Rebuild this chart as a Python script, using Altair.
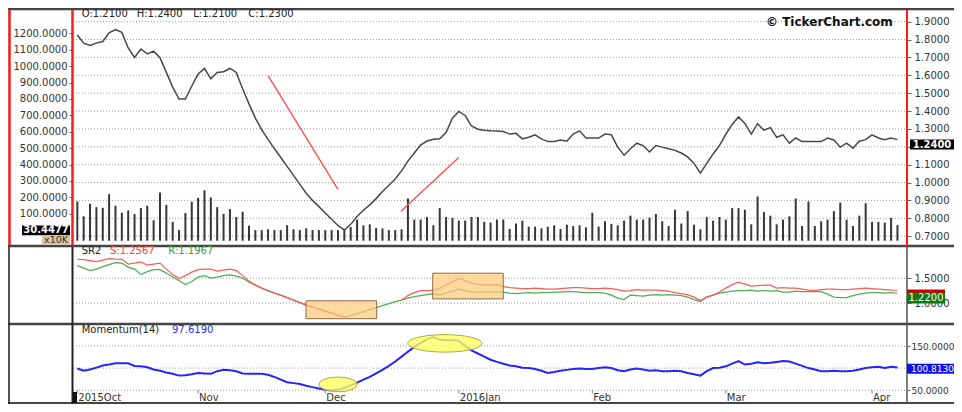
import altair as alt
import pandas as pd

# ---------------- data ----------------
N = 130
price = [1.825, 1.78, 1.767, 1.78, 1.789, 1.838, 1.856, 1.84, 1.753, 1.70,
         1.747, 1.72, 1.735, 1.698, 1.616, 1.534, 1.467, 1.467, 1.54, 1.607,
         1.638, 1.58, 1.616, 1.62, 1.638, 1.616, 1.525, 1.44, 1.36, 1.296,
         1.24, 1.19, 1.14, 1.09, 1.04, 0.99, 0.94, 0.90, 0.865, 0.83,
         0.795, 0.76, 0.734, 0.766, 0.81, 0.845, 0.875, 0.91, 0.95, 0.985,
         1.02, 1.065, 1.12, 1.165, 1.21, 1.232, 1.242, 1.245, 1.28, 1.36,
         1.398, 1.375, 1.316, 1.298, 1.292, 1.289, 1.288, 1.285, 1.271, 1.275,
         1.244, 1.253, 1.267, 1.244, 1.229, 1.229, 1.238, 1.231, 1.271, 1.289,
         1.249, 1.249, 1.249, 1.271, 1.267, 1.198, 1.153, 1.189, 1.22, 1.207,
         1.171, 1.207, 1.198, 1.189, 1.18, 1.165, 1.143, 1.107, 1.053, 1.107,
         1.16, 1.207, 1.27, 1.325, 1.367, 1.331, 1.271, 1.329, 1.293, 1.307,
         1.253, 1.267, 1.22, 1.249, 1.229, 1.229, 1.229, 1.229, 1.249, 1.238,
         1.198, 1.22, 1.192, 1.231, 1.24, 1.267, 1.249, 1.24, 1.249, 1.24]

volume = [175, 84, 160, 140, 136, 219, 149, 106, 120, 98,
          134, 149, 60, 229, 154, 50, 0, 104, 173, 197,
          243, 199, 140, 98, 128, 80, 112, 27, 0, 0,
          5, 0, 0, 30, 5, 0, 11, 0, 0, 0,
          0, 0, 5, 19, 64, 29, 35, 13, 10, 0,
          0, 5, 193, 64, 64, 80, 29, 134, 80, 74,
          58, 58, 80, 80, 50, 46, 64, 64, 7, 40,
          58, 21, 21, 11, 21, 29, 7, 33, 25, 29,
          17, 106, 21, 54, 38, 29, 58, 88, 64, 64,
          76, 98, 54, 25, 124, 40, 116, 33, 5, 80,
          58, 80, 64, 134, 134, 124, 35, 205, 110, 88,
          35, 64, 84, 193, 25, 175, 25, 54, 64, 116,
          168, 64, 25, 88, 164, 50, 50, 46, 74, 30.4477]

sr_s = [1.875, 1.87, 1.85, 1.83, 1.86, 1.89, 1.88, 1.875, 1.78, 1.80,
        1.825, 1.76, 1.78, 1.80, 1.68, 1.57, 1.49, 1.55, 1.62, 1.67,
        1.68, 1.68, 1.64, 1.66, 1.68, 1.65, 1.55, 1.44, 1.36, 1.30,
        1.25, 1.20, 1.16, 1.11, 1.06, 1.01, 0.96, 0.92, 0.88, 0.84,
        0.80, 0.76, 0.72, None, None, None, None, None, None, None,
        None, 1.06, 1.15, 1.21, 1.25, 1.25, 1.26, 1.30, 1.36, 1.43,
        1.49, 1.45, 1.40, 1.38, 1.37, 1.37, 1.37, 1.33, 1.31, 1.30,
        1.29, 1.29, 1.30, 1.29, 1.28, 1.28, 1.29, 1.30, 1.31, 1.31,
        1.30, 1.29, 1.29, 1.30, 1.29, 1.27, 1.24, 1.25, 1.27, 1.26,
        1.26, 1.26, 1.25, 1.24, 1.21, 1.19, 1.17, 1.12, 1.05, 1.12,
        1.16, 1.22, 1.30, 1.37, 1.42, 1.38, 1.34, 1.35, 1.36, 1.36,
        1.30, 1.31, 1.30, 1.30, 1.28, 1.26, 1.25, 1.27, 1.28, 1.28,
        1.27, 1.27, 1.28, 1.29, 1.30, 1.29, 1.28, 1.27, 1.26, 1.2567]

sr_r = [1.75, 1.70, 1.65, 1.68, 1.73, 1.77, 1.81, 1.80, 1.72, 1.68,
        1.57, 1.63, 1.67, 1.67, 1.60, 1.52, 1.45, 1.37, 1.43, 1.52,
        1.55, 1.50, 1.52, 1.55, 1.565, 1.54, 1.50, 1.42, 1.36, 1.30,
        1.25, 1.20, 1.16, 1.11, 1.06, 1.01, 0.96, 0.92, 0.88, 0.84,
        0.80, 0.76, 0.72, 0.75, 0.79, 0.83, 0.87, 0.91, 0.95, 0.99,
        1.03, 1.06, 1.10, 1.13, 1.15, 1.17, 1.19, 1.16, 1.20, 1.24,
        1.28, 1.25, 1.22, 1.22, 1.22, 1.22, 1.22, 1.22, 1.20, 1.19,
        1.20, 1.21, 1.20, 1.21, 1.21, 1.22, 1.22, 1.23, 1.23, 1.22,
        1.21, 1.21, 1.21, 1.20, 1.16, 1.10, 1.07, 1.16, 1.15, 1.14,
        1.16, 1.17, 1.16, 1.17, 1.16, 1.15, 1.12, 1.07, 1.03, 1.12,
        1.16, 1.20, 1.22, 1.24, 1.25, 1.25, 1.26, 1.24, 1.25, 1.24,
        1.25, 1.22, 1.22, 1.24, 1.23, 1.23, 1.23, 1.23, 1.18, 1.12,
        1.11, 1.11, 1.15, 1.18, 1.20, 1.21, 1.21, 1.20, 1.21, 1.1967]

momentum = [99, 94, 97, 101, 106, 108, 111, 111, 111, 105,
            104, 102, 97, 94, 90, 87, 83, 84, 86, 89,
            88, 87, 93, 96, 95, 93, 88, 87, 87, 87,
            85, 80, 74, 68, 66, 64, 60, 57, 54, 51,
            50, 51, 55, 61, 67, 74, 80, 88, 96, 105,
            115, 126, 137, 148, 157, 165, 170, 164, 163, 163,
            162, 150, 140, 133, 126, 119, 114, 110, 106, 104,
            101, 100, 98, 94, 89, 91, 94, 96, 98, 99,
            98, 98, 100, 102, 100, 95, 93, 97, 99, 97,
            94, 95, 93, 93, 94, 93, 89, 86, 83, 93,
            100, 101, 104, 110, 116, 108, 110, 113, 111, 112,
            114, 116, 115, 110, 105, 100, 97, 93, 93, 94,
            93, 93, 94, 97, 100, 102, 103, 100, 103, 101.5]

month_pos = [0, 19, 39, 60, 81, 102, 125]
month_lbl = ["2015Oct", "Nov", "Dec", "2016Jan", "Feb", "Mar", "Apr"]

trend_seg = ["down", "down", "up", "up"]
trend_i = [30.0, 41.0, 50.9, 60.0]
trend_p = [1.598, 0.962, 0.839, 1.14]

box_i = [35.97, 55.9]
box_i2 = [47.09, 67.0]
box_lo = [0.688, 1.084]
box_hi = [1.046, 1.598]

ell_i = [41.0, 57.8]
ell_mom = [63.1, 155.9]

vol_ticks = [100, 200, 300, 400, 500, 600, 700, 800, 900, 1000, 1100, 1200]
price_ticks = [0.7, 0.8, 0.9, 1.0, 1.1, 1.2, 1.3, 1.4, 1.5, 1.6, 1.7, 1.8, 1.9]
sr_ticks = [1.0, 1.5]
mom_ticks = [50, 100, 150]

# ---------------- geometry ----------------
W, H = 946, 396
FONT = "DejaVu Sans"
X_DOM = [-0.68, 130.5]
X_RNG = [65, 899]
VOL_BASE = -65
MOM_AXIS = 50          # momentum level on which the date axis sits
TICK_LEN = 7           # length of the date ticks, in momentum units


def lin_range(dom, v0, p0, v1, p1):
    k = (p1 - p0) / (v1 - v0)
    return [p0 + (dom[0] - v0) * k, p0 + (dom[1] - v0) * k]


PRICE_DOM = [0.65, 1.95]
VOL_DOM = [-70, 1350]
SR_DOM = [0.6, 2.1]
MOM_DOM = [20, 200]
xs = alt.Scale(domain=X_DOM, range=X_RNG, nice=False, zero=False)
ps = alt.Scale(domain=PRICE_DOM, range=lin_range(PRICE_DOM, 0.7, 228.15, 1.9, 13.65), nice=False, zero=False)
vs = alt.Scale(domain=VOL_DOM, range=lin_range(VOL_DOM, 100, 205.7, 1200, 25.35), nice=False, zero=False)
srs = alt.Scale(domain=SR_DOM, range=lin_range(SR_DOM, 1.0, 295.1, 1.5, 270.1), nice=False, zero=False)
ms = alt.Scale(domain=MOM_DOM, range=lin_range(MOM_DOM, 50, 382.2, 150, 338.0), nice=False, zero=False)

df = pd.DataFrame({"i": list(range(N)), "price": price, "vol": volume, "mom": momentum})
df["base"] = VOL_BASE


def segments(vals, name):
    rows, seg = [], 0
    for k, v in enumerate(vals):
        if v is None:
            seg += 1
            continue
        rows.append({"i": k, name: v, "seg": seg})
    return pd.DataFrame(rows)


df_s = segments(sr_s, "s")
df_r = segments(sr_r, "r")
df_tr = pd.DataFrame({"seg": trend_seg, "i": trend_i, "p": trend_p})
df_box = pd.DataFrame({"i": box_i, "i2": box_i2, "lo": box_lo, "hi": box_hi})
df_ell = pd.DataFrame({"i": ell_i, "mom": ell_mom})
df_mon = pd.DataFrame({"i": month_pos, "lbl": month_lbl})
df_mon["t0"] = MOM_AXIS
df_mon["t1"] = MOM_AXIS - TICK_LEN

common_axis = dict(labelFont=FONT, labelColor="#333333", tickColor="#666666",
                   grid=False, domain=False, title=None)
right_off = -(W - X_RNG[1])
Xn = alt.X("i:Q", scale=xs, axis=None)


def rule_grid(vals, scale):
    g = pd.DataFrame({"v": vals})
    g["i"] = X_DOM[0]
    g["i2"] = X_DOM[1]
    return alt.Chart(g).mark_rule(color="#9c9c9c", strokeDash=[1, 2], strokeWidth=1).encode(
        y=alt.Y("v:Q", scale=scale, axis=None), x=Xn, x2="i2:Q")


layers = [rule_grid(price_ticks, ps), rule_grid(sr_ticks, srs), rule_grid(mom_ticks, ms)]

# volume bars (left axis)
layers.append(alt.Chart(df).mark_rule(strokeWidth=2, color="#363636").encode(
    x=Xn,
    y=alt.Y("vol:Q", scale=vs, axis=alt.Axis(orient="left", offset=-X_RNG[0], values=vol_ticks,
                                            format=".4f", tickSize=4, labelPadding=2, labelFontSize=10,
                                            **common_axis)),
    y2="base:Q",
))

# price line (right axis); the 1.2000 label sits under the last-price box
layers.append(alt.Chart(df).mark_line(color="#474747", strokeWidth=1.5).encode(
    x=Xn,
    y=alt.Y("price:Q", scale=ps, axis=alt.Axis(
        orient="right", offset=right_off, values=price_ticks,
        labelExpr="datum.value == 1.2 ? '' : format(datum.value, '.4f')",
        tickSize=4, labelPadding=3, labelFontSize=10, **common_axis)),
))

# red trend lines
layers.append(alt.Chart(df_tr).mark_line(color="#ff4a4a", strokeWidth=1.3).encode(
    x=Xn, y=alt.Y("p:Q", scale=ps, axis=None), detail="seg:N"))

# SR2 lines
layers.append(alt.Chart(df_r).mark_line(color="#4caf50", strokeWidth=1.2).encode(
    x=Xn, y=alt.Y("r:Q", scale=srs, axis=alt.Axis(orient="right", offset=right_off, values=sr_ticks,
                                                format=".4f", tickSize=4, labelPadding=3, labelFontSize=10,
                                                **common_axis)),
    detail="seg:N"))
layers.append(alt.Chart(df_s).mark_line(color="#ff5a5a", strokeWidth=1.2).encode(
    x=Xn, y=alt.Y("s:Q", scale=srs, axis=None), detail="seg:N"))

# orange boxes
layers.append(alt.Chart(df_box).mark_rect(fill="#ffc978", fillOpacity=0.7, stroke="#8b6d45", strokeWidth=1).encode(
    x=Xn, x2="i2:Q", y=alt.Y("lo:Q", scale=srs, axis=None), y2="hi:Q"))

# momentum line
layers.append(alt.Chart(df).mark_line(color="#2424ff", strokeWidth=2).encode(
    x=Xn,
    y=alt.Y("mom:Q", scale=ms, axis=alt.Axis(orient="right", offset=right_off, values=mom_ticks,
                                            format=".4f", tickSize=3, labelPadding=1, labelFontSize=9,
                                            **common_axis)),
))

# date ticks and labels
layers.append(alt.Chart(df_mon).mark_rule(color="#777777", strokeWidth=1).encode(
    x=Xn, y=alt.Y("t0:Q", scale=ms, axis=None), y2="t1:Q"))
layers.append(alt.Chart(df_mon).mark_text(font=FONT, fontSize=10, color="#333333", align="left",
                                          baseline="middle", dx=1).encode(
    x=Xn, y=alt.value(390), text="lbl:N"))

# yellow ellipses
K = 0.5523


def ellipse_path(r):
    return (f"M -1 0 C -1 {-r*K:.3f} {-K:.3f} {-r:.3f} 0 {-r:.3f} "
            f"C {K:.3f} {-r:.3f} 1 {-r*K:.3f} 1 0 "
            f"C 1 {r*K:.3f} {K:.3f} {r:.3f} 0 {r:.3f} "
            f"C {-K:.3f} {r:.3f} -1 {r*K:.3f} -1 0 Z")


for row, (wpx, hpx) in zip(range(2), [(38, 14.6), (74, 17.5)]):
    layers.append(alt.Chart(df_ell.iloc[[row]].reset_index(drop=True)).mark_point(
        shape=ellipse_path(hpx / wpx), size=wpx * wpx, filled=True, fill="#ffff5c",
        fillOpacity=0.78, stroke="#a8a83c", strokeWidth=1, opacity=1).encode(
        x=Xn, y=alt.Y("mom:Q", scale=ms, axis=None)))

one = pd.DataFrame({"a": [0]})


def frame(x1, x2, y1, y2, color, w):
    return alt.Chart(one).mark_rule(color=color, strokeWidth=w).encode(
        x=alt.value(x1), x2=alt.value(x2), y=alt.value(y1), y2=alt.value(y2))


def label(text, x, y, color="#222222", size=10, weight="normal", align="left"):
    return alt.Chart(one).mark_text(text=text, font=FONT, fontSize=size, fontWeight=weight, color=color,
                                    align=align, baseline="middle").encode(x=alt.value(x), y=alt.value(y))


def box(x1, x2, y1, y2, color):
    return alt.Chart(one).mark_rect(color=color).encode(
        x=alt.value(x1), x2=alt.value(x2), y=alt.value(y1), y2=alt.value(y2))


# frames
layers += [
    frame(0, W, 1, 1, "#444444", 2.5),
    frame(0, W, 238, 238, "#444444", 2.5),
    frame(0, W, 316, 316, "#444444", 2.5),
    frame(0, W, 395, 395, "#444444", 2),
    frame(1.5, 1.5, 2, 237, "#ff1a1a", 2.5),
    frame(64.5, 64.5, 2, 237, "#ff1a1a", 2.5),
    frame(899, 899, 2, 239, "#ff1a1a", 2),
    frame(1, 1, 239, 396, "#222222", 1.5),
    frame(64.5, 64.5, 239, 396, "#222222", 2),
    frame(899, 899, 239, 396, "#555555", 1.5),
]

# header texts
layers += [
    label("O:1.2100", 73.7, 6),
    label("H:1.2400", 128.7, 6),
    label("L:1.2100", 185.3, 6),
    label("C:1.2300", 240.3, 6),
    label("© TickerChart.com", 758, 13.9, color="#111111", size=12, weight="bold"),
    label("SR2", 73.7, 242.8),
    label("S:1.2567", 102, 242.8, color="#ff4040"),
    label("R:1.1967", 160.3, 242.8, color="#3c9c3c"),
    label("Momentum(14)", 73.7, 322),
    label("97.6190", 164, 322, color="#2a2aff"),
]

# value boxes
layers += [
    box(902, 946, 131.6, 141.4, "#000000"),
    label("1.2400", 924, 136.5, color="#ffffff", weight="bold", align="center"),
    box(899, 937, 281.5, 290, "#cc0000"),
    box(899, 937, 284.7, 295.4, "#0a7a0a"),
    label("1.2200", 918, 290, color="#ffffff", align="center"),
    box(899, 946, 355.8, 365.7, "#1010ee"),
    label("100.8130", 924.5, 361, color="#ffffff", size=9, align="center"),
    box(14, 62, 217.4, 227.2, "#000000"),
    label("30.4477", 38, 222.3, color="#ffffff", weight="bold", align="center"),
    box(34, 62, 228, 236.5, "#d8c6a2"),
    label("x10K", 48, 232.3, color="#333333", size=9.5, align="center"),
    box(65, 69, 384, 395, "#111111"),
]

chart = alt.layer(*layers).resolve_scale(y="independent").properties(
    width=W, height=H, autosize=alt.AutoSizeParams(type="none"), padding=0
).configure_view(stroke=None).configure(background="white")

chart.save("out.html", embed_options={"renderer": "svg", "actions": False})
